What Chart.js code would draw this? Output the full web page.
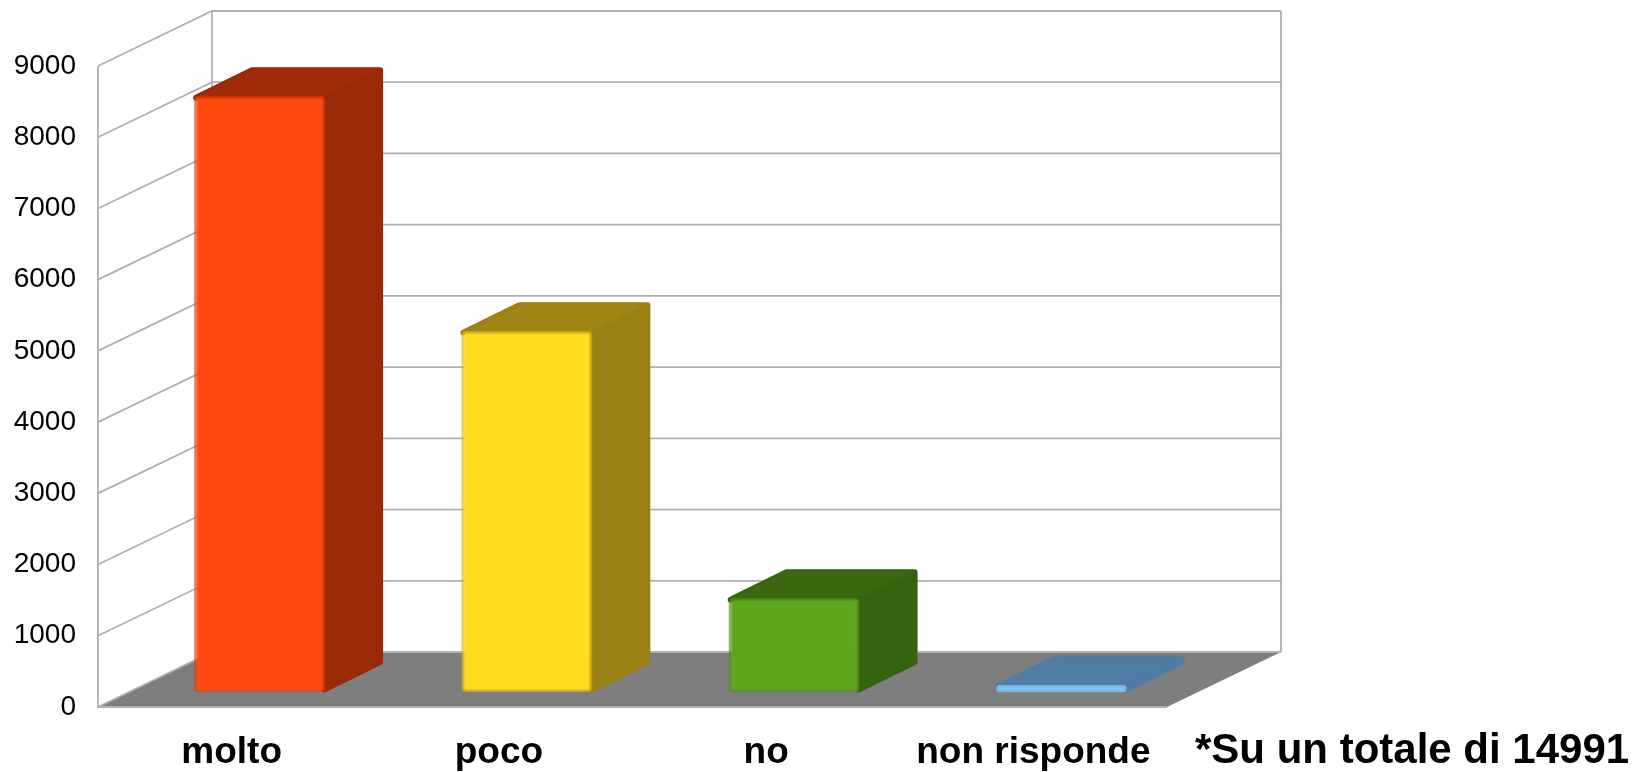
<!DOCTYPE html>
<html>
<head>
<meta charset="utf-8">
<style>
	html, body { margin: 0; padding: 0; background: #fff; }
	canvas { display: block; }
</style>
<script src="https://cdn.jsdelivr.net/npm/chart.js@4"></script>
</head>
<body>
<canvas id="myChart" width="1636" height="772"></canvas>
<script>
const categories = ["molto", "poco", "no", "non risponde"];
const values = [8380, 5080, 1330, 110];
const note = "*Su un totale di 14991";

const frontColors = ["#ff4a0f", "#ffdc1e", "#5ea61e", "#85d0ff"];
const edgeColors = ["#d23a08", "#c4a412", "#4a8714", "#85d0ff"];
const topColors = ["#a02b08", "#a18615", "#3c6910", "#4f7da4"];
const sideColors = ["#9a2908", "#9a7f13", "#376210", "#4f7da4"];

const gridColor = "#b0b0b0";
const floorColor = "#7e7e7e";
const wallDx = 114, wallDy = 55;    // depth of the floor
const barOffDx = 28, barOffDy = 14.5; // bars stand inside the floor
const barDx = 58, barDy = 28.5;     // depth of a bar
const corner = 3;                   // rounding of the bar outline

function poly(ctx, pts, fill, stroke) {
	ctx.beginPath();
	pts.forEach((p, i) => (i ? ctx.lineTo(p[0], p[1]) : ctx.moveTo(p[0], p[1])));
	ctx.closePath();
	ctx.fillStyle = fill;
	ctx.fill();
	if (stroke) {
		ctx.strokeStyle = stroke;
		ctx.lineWidth = corner * 2;
		ctx.lineJoin = "round";
		ctx.stroke();
	}
}

const box3d = {
	id: "box3d",
	beforeDatasetsDraw(chart) {
		const ctx = chart.ctx;
		const { left, right, bottom } = chart.chartArea;
		const y = chart.scales.y;
		ctx.save();
		// floor
		poly(ctx, [[left, bottom], [right, bottom], [right + wallDx, bottom - wallDy], [left + wallDx, bottom - wallDy]], floorColor);
		// walls and grid
		ctx.strokeStyle = gridColor;
		ctx.lineWidth = 1.8;
		y.ticks.forEach(t => {
			const py = y.getPixelForValue(t.value);
			ctx.beginPath();
			ctx.moveTo(left, py);
			ctx.lineTo(left + wallDx, py - wallDy);
			ctx.lineTo(right + wallDx, py - wallDy);
			ctx.stroke();
		});
		const top = y.getPixelForValue(9000);
		ctx.beginPath();
		ctx.moveTo(left, top);
		ctx.lineTo(left, bottom);
		ctx.lineTo(right, bottom);
		ctx.moveTo(left + wallDx, top - wallDy);
		ctx.lineTo(left + wallDx, bottom - wallDy);
		ctx.moveTo(right + wallDx, top - wallDy);
		ctx.lineTo(right + wallDx, bottom - wallDy);
		ctx.stroke();
		// top and side of every bar, outline inset so the round stroke lands on the edge
		chart.getDatasetMeta(0).data.forEach((bar, i) => {
			const l = bar.x - bar.width / 2 + barOffDx;
			const r = bar.x + bar.width / 2 + barOffDx;
			const t = bar.y - barOffDy;
			const b = bar.base - barOffDy;
			poly(ctx, [
				[l + 2, t + 2],
				[l + barDx, t - barDy + corner],
				[r + barDx - corner, t - barDy + corner],
				[r + barDx - corner, b - barDy - 2],
				[r - 1, b - corner],
				[r - 1, t + 2],
			], sideColors[i], sideColors[i]);
			ctx.save();
			ctx.filter = "blur(1.5px)";
			poly(ctx, [[l + 4, t], [l + barDx + 1, t - barDy + 2], [r + barDx - 3, t - barDy + 2], [r, t]], topColors[i]);
			ctx.restore();
		});
		ctx.restore();
	},
	beforeDatasetDraw(chart) {
		chart.ctx.save();
		chart.ctx.translate(barOffDx, -barOffDy);
		chart.ctx.filter = "blur(0.9px)";
	},
	afterDatasetDraw(chart) {
		chart.ctx.restore();
	},
	afterDraw(chart) {
		const ctx = chart.ctx;
		ctx.save();
		ctx.font = "bold 42px 'Liberation Sans'";
		ctx.fillStyle = "#000";
		ctx.textBaseline = "alphabetic";
		ctx.fillText(note, 1195, 763);
		ctx.restore();
	},
};

const data = {
	labels: categories,
	datasets: [
		{
			data: values,
			backgroundColor: frontColors,
			borderColor: edgeColors,
			borderWidth: 2,
			borderRadius: 4,
			borderSkipped: false,
			barPercentage: 0.49,
			categoryPercentage: 1,
		},
	],
};

const config = {
	type: "bar",
	data,
	options: {
		responsive: false,
		animation: false,
		layout: { padding: { top: 66, right: 469, bottom: 0, left: 0 } },
		plugins: {
			legend: { display: false },
			tooltip: { enabled: false },
		},
		scales: {
			x: {
				afterFit: s => { s.height = 65; },
				grid: { display: false, drawTicks: false },
				border: { display: false },
				ticks: {
					color: "#000",
					padding: 24,
					maxRotation: 0,
					autoSkip: false,
					font: { family: "'Liberation Sans'", size: 37, weight: "bold" },
				},
			},
			y: {
				min: 0,
				max: 9000,
				afterFit: s => { s.width = 98; },
				grid: { display: false, drawTicks: false },
				border: { display: false },
				ticks: {
					stepSize: 1000,
					color: "#000",
					padding: 22,
					callback: v => String(v),
					font: { family: "'Liberation Sans'", size: 28 },
				},
			},
		},
	},
	plugins: [box3d],
};

var myChart = new Chart(document.getElementById("myChart"), config);
</script>
</body>
</html>
